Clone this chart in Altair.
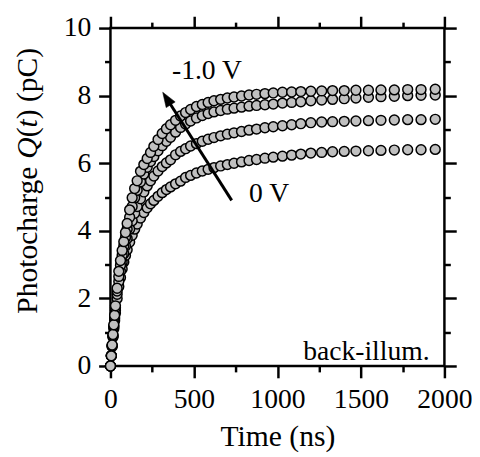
import altair as alt
import pandas as pd

# ---------------- data ----------------
time_ns = [0, 5, 10, 15, 20, 25, 30, 40, 50, 60, 70, 80, 90, 100, 115, 130, 145, 160,
           180, 200, 220, 240, 260, 285, 310, 335, 360, 390, 420, 450, 480, 515, 550,
           585, 620, 660, 700, 740, 785, 830, 875, 925, 975, 1030, 1085, 1140, 1200,
           1265, 1330, 1400, 1470, 1545, 1620, 1700, 1780, 1860, 1945]

q_minus10 = [0, 0.3, 0.62, 0.93, 1.22, 1.5, 1.78, 2.3, 2.8, 3.12, 3.42, 3.68, 3.95, 4.22,
             4.62, 4.98, 5.25, 5.48, 5.76, 5.96, 6.14, 6.32, 6.5, 6.7, 6.88, 7.02, 7.14,
             7.27, 7.4, 7.5, 7.59, 7.68, 7.74, 7.8, 7.85, 7.89, 7.93, 7.96, 7.99, 8.02,
             8.04, 8.06, 8.08, 8.1, 8.11, 8.12, 8.13, 8.14, 8.15, 8.15, 8.16, 8.16, 8.17,
             8.17, 8.18, 8.18, 8.19]

q_second = [0, 0.3, 0.6, 0.9, 1.18, 1.45, 1.72, 2.22, 2.65, 2.98, 3.28, 3.55, 3.8, 4.05,
            4.4, 4.72, 4.98, 5.2, 5.45, 5.68, 5.88, 6.05, 6.2, 6.37, 6.52, 6.65, 6.77,
            6.92, 7.06, 7.16, 7.25, 7.34, 7.41, 7.47, 7.52, 7.56, 7.6, 7.63, 7.66, 7.69,
            7.71, 7.73, 7.75, 7.78, 7.8, 7.82, 7.85, 7.87, 7.89, 7.91, 7.93, 7.95, 7.97,
            7.98, 8.0, 8.01, 8.02]

q_third = [0, 0.3, 0.6, 0.88, 1.15, 1.4, 1.65, 2.12, 2.5, 2.8, 3.07, 3.32, 3.55, 3.77,
           4.05, 4.3, 4.52, 4.72, 4.95, 5.15, 5.33, 5.48, 5.62, 5.77, 5.9, 6.01, 6.1,
           6.25, 6.35, 6.43, 6.51, 6.58, 6.65, 6.71, 6.76, 6.81, 6.86, 6.9, 6.94, 6.98,
           7.01, 7.05, 7.08, 7.11, 7.14, 7.17, 7.2, 7.22, 7.23, 7.24, 7.25, 7.26, 7.27,
           7.28, 7.29, 7.29, 7.3]

q_zero = [0, 0.3, 0.58, 0.85, 1.1, 1.34, 1.57, 2.0, 2.35, 2.62, 2.87, 3.08, 3.27, 3.44,
          3.67, 3.87, 4.05, 4.2, 4.38, 4.54, 4.68, 4.8, 4.9, 5.02, 5.13, 5.22, 5.3,
          5.39, 5.47, 5.58, 5.64, 5.71, 5.77, 5.82, 5.87, 5.92, 5.96, 6.0, 6.04, 6.08,
          6.11, 6.15, 6.18, 6.21, 6.24, 6.27, 6.3, 6.32, 6.34, 6.35, 6.36, 6.37, 6.38,
          6.39, 6.4, 6.4, 6.41]

series_order = ["0 V", "bias 2", "bias 3", "-1.0 V"]   # drawing order (last on top)
series_values = [q_zero, q_third, q_second, q_minus10]

x_major = [0, 500, 1000, 1500, 2000]
x_minor = [250, 750, 1250, 1750]
y_major = [0, 2, 4, 6, 8, 10]
y_minor = [1, 3, 5, 7, 9]

arrow_t = [726]
arrow_q = [4.90]
arrow_t2 = [338]
arrow_q2 = [7.91]
head_t = [313]
head_q = [8.10]

ann_labels = ["-1.0 V", "0 V"]
ann_t = [578, 950]
ann_q = [8.49, 4.85]

inset_label = ["back-illum."]
inset_t = [1911]
inset_q = [0.18]

# ---------------- build tables ----------------
rows = []
for name, vals in zip(series_order, series_values):
    for t, q in zip(time_ns, vals):
        rows.append({"series": name, "t": t, "q": q})
df = pd.DataFrame(rows)

arrow_df = pd.DataFrame({"t": arrow_t, "q": arrow_q, "t2": arrow_t2, "q2": arrow_q2})
head_df = pd.DataFrame({"t": head_t, "q": head_q})
ann_df = pd.DataFrame({"t": ann_t, "q": ann_q, "label": ann_labels})
inset_df = pd.DataFrame({"t": inset_t, "q": inset_q, "label": inset_label})

FONT = "Liberation Serif"
xs = alt.Scale(domain=[0, 2000], nice=False, zero=False)
ys = alt.Scale(domain=[0, 10], nice=False, zero=False)

common = dict(domain=False, grid=False, tickColor="black", tickWidth=2.5)


def major_x(orient, labels):
    kw = dict(common)
    if labels:
        kw.update(labelFont=FONT, labelFontSize=28, labelColor="black", labelPadding=8,
                  labelFlush=False, labelOverlap=False, format="d",
                  title="Time (ns)", titleFont=FONT, titleFontSize=30,
                  titleFontWeight="normal", titleColor="black", titleY=81,
                  titleBaseline="alphabetic")
    else:
        kw.update(labels=False, title=None)
    return alt.Axis(orient=orient, values=x_major, tickSize=12, **kw)


def minor_x(orient):
    return alt.Axis(orient=orient, values=x_minor, tickSize=6, labels=False, title=None, **common)


def major_y(orient, labels):
    kw = dict(common)
    if labels:
        kw.update(labelFont=FONT, labelFontSize=28, labelColor="black", labelPadding=8,
                  labelOverlap=False, format="d", title=None)
    else:
        kw.update(labels=False, title=None)
    return alt.Axis(orient=orient, values=y_major, tickSize=12, **kw)


def minor_y(orient):
    return alt.Axis(orient=orient, values=y_minor, tickSize=6, labels=False, title=None, **common)


def X(field, axis=None):
    return alt.X(field, type="quantitative", scale=xs, axis=axis)


def Y(field, axis=None):
    return alt.Y(field, type="quantitative", scale=ys, axis=axis)


points = alt.Chart(df).mark_point(
    shape="circle", filled=True, fill="#c0c0c0", stroke="black", strokeWidth=1.5,
    size=100, opacity=1
).encode(
    x=X("t", major_x("bottom", True)),
    y=Y("q", major_y("left", True)),
)

ghost = alt.Chart(head_df).mark_point(opacity=0)
ax2 = ghost.encode(x=X("t", minor_x("bottom")), y=Y("q", minor_y("left")))
ax3 = ghost.encode(x=X("t", major_x("top", False)), y=Y("q", major_y("right", False)))
ax4 = ghost.encode(x=X("t", minor_x("top")), y=Y("q", minor_y("right")))

shaft = alt.Chart(arrow_df).mark_rule(color="black", strokeWidth=3).encode(
    x=X("t"), y=Y("q"), x2="t2:Q", y2="q2:Q"
)
head = alt.Chart(head_df).mark_point(
    shape="M0,0L-0.36,1L0.36,1Z", filled=True, fill="black", stroke="black",
    strokeWidth=0.5, size=900, angle=327.5, opacity=1
).encode(x=X("t"), y=Y("q"))

ann = alt.Chart(ann_df).mark_text(
    font=FONT, fontSize=28, color="black", align="center", baseline="alphabetic"
).encode(x=X("t"), y=Y("q"), text="label:N")

inset = alt.Chart(inset_df).mark_text(
    font=FONT, fontSize=28, color="black", align="right", baseline="alphabetic"
).encode(x=X("t"), y=Y("q"), text="label:N")

# y-axis title with italic Q and t, built from segments
F = 30
y0 = 290
segs = [("Photocharge", "normal", 0.0), ("Q", "italic", 5.249),
        ("(", "normal", 5.971), ("t", "italic", 6.304), (") (pC)", "normal", 6.582)]
one = pd.DataFrame({"k": [0]})
title_layers = []
for txt, style, off in segs:
    title_layers.append(
        alt.Chart(one).mark_text(
            text=txt, font=FONT, fontSize=F, fontStyle=style, color="black",
            angle=270, align="left", baseline="alphabetic"
        ).encode(x=alt.value(-75), y=alt.value(y0 - off * F))
    )

chart = alt.layer(points, ax2, ax3, ax4, shaft, head, ann, inset, *title_layers).resolve_axis(
    x="independent", y="independent"
).properties(
    width=339, height=343,
    padding={"left": 104, "top": 17, "right": 28, "bottom": 88},
    autosize=alt.AutoSizeParams(type="none"),
).configure_view(stroke="black", strokeWidth=2.5)

chart.save("out.html", embed_options={"renderer": "svg", "actions": False})
